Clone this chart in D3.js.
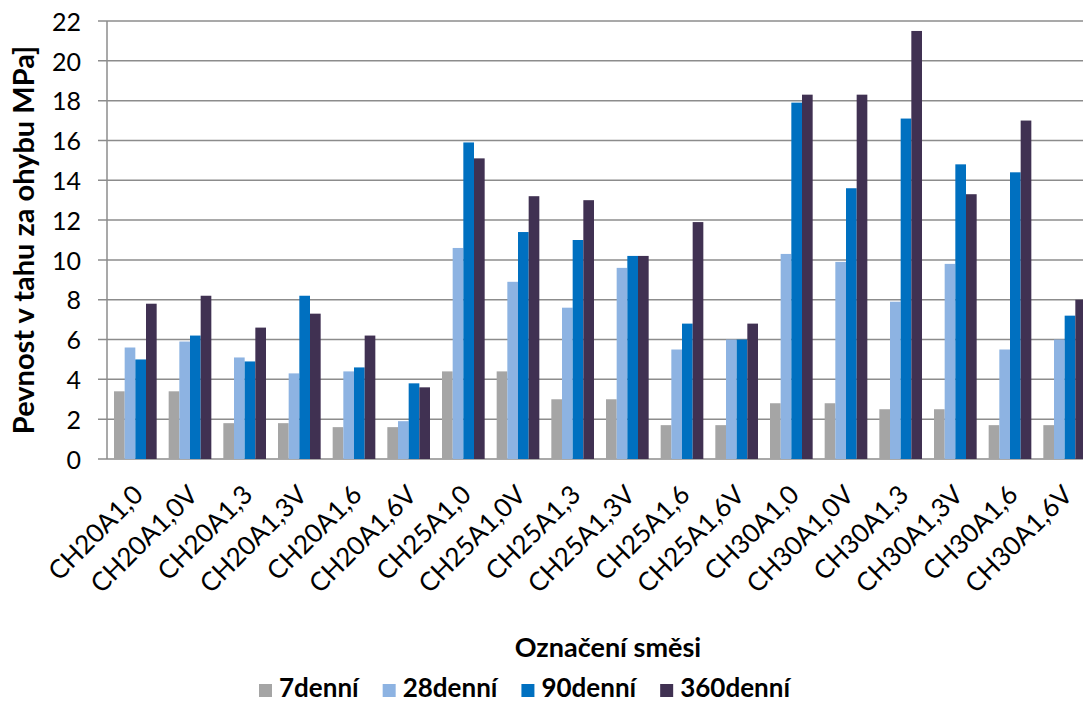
<!DOCTYPE html>
<html>
<head>
<meta charset="utf-8">
<script src="https://cdn.jsdelivr.net/npm/d3@7"></script>
<style>
  body { margin: 0; background: #fff; }
  svg { display: block; font-family: Lato, "Open Sans", sans-serif; }
</style>
</head>
<body>
<div id="chart"></div>
<script>
// categories (mixtures) and series (curing age)
const categories = ["CH20A1,0", "CH20A1,0V", "CH20A1,3", "CH20A1,3V", "CH20A1,6", "CH20A1,6V",
                    "CH25A1,0", "CH25A1,0V", "CH25A1,3", "CH25A1,3V", "CH25A1,6", "CH25A1,6V",
                    "CH30A1,0", "CH30A1,0V", "CH30A1,3", "CH30A1,3V", "CH30A1,6", "CH30A1,6V"];
const seriesNames = ["7denní", "28denní", "90denní", "360denní"];
const days7   = [3.4, 3.4, 1.8, 1.8, 1.6, 1.6, 4.4, 4.4, 3.0, 3.0, 1.7, 1.7, 2.8, 2.8, 2.5, 2.5, 1.7, 1.7];
const days28  = [5.6, 5.9, 5.1, 4.3, 4.4, 1.9, 10.6, 8.9, 7.6, 9.6, 5.5, 6.0, 10.3, 9.9, 7.9, 9.8, 5.5, 6.0];
const days90  = [5.0, 6.2, 4.9, 8.2, 4.6, 3.8, 15.9, 11.4, 11.0, 10.2, 6.8, 6.0, 17.9, 13.6, 17.1, 14.8, 14.4, 7.2];
const days360 = [7.8, 8.2, 6.6, 7.3, 6.2, 3.6, 15.1, 13.2, 13.0, 10.2, 11.9, 6.8, 18.3, 18.3, 21.5, 13.3, 17.0, 8.0];
const yTicks = [0, 2, 4, 6, 8, 10, 12, 14, 16, 18, 20, 22];
const colors = ["#A5A5A5", "#8DB3E2", "#0070C0", "#403152"];

const allSeries = [days7, days28, days90, days360];

const W = 1083, H = 713;
const plot = { left: 107, right: 1092, top: 21, bottom: 459 };

const svg = d3.select("#chart").append("svg")
    .attr("width", W)
    .attr("height", H);

const x = d3.scaleBand()
    .domain(categories)
    .range([plot.left + 1, plot.right])
    .padding(0);

// bars sit inside each band with a gap on both sides
const xs = d3.scaleBand()
    .domain(d3.range(seriesNames.length))
    .range([6, x.bandwidth() - 6])
    .padding(0);

const y = d3.scaleLinear()
    .domain([0, 22])
    .range([plot.bottom, plot.top]);

// gridlines
svg.append("g")
    .selectAll("line")
    .data(yTicks)
    .enter()
    .append("line")
    .attr("x1", plot.left - 9)
    .attr("x2", W)
    .attr("y1", d => y(d))
    .attr("y2", d => y(d))
    .style("stroke", "#8C8C8C")
    .style("stroke-width", 1.5);

// bars
const groups = svg.append("g")
    .selectAll("g")
    .data(categories)
    .enter()
    .append("g")
    .attr("transform", d => "translate(" + x(d) + ",0)");

groups.selectAll("rect")
    .data((d, i) => allSeries.map((s, k) => ({ k: k, v: s[i] })))
    .enter()
    .append("rect")
    .attr("x", d => xs(d.k))
    .attr("width", xs.bandwidth())
    .attr("y", d => y(d.v))
    .attr("height", d => y(0) - y(d.v))
    .style("fill", d => colors[d.k]);

// y axis line
svg.append("line")
    .attr("x1", plot.left).attr("x2", plot.left)
    .attr("y1", plot.top).attr("y2", plot.bottom)
    .style("stroke", "#8C8C8C")
    .style("stroke-width", 1.5);

// y tick labels
svg.append("g")
    .selectAll("text")
    .data(yTicks)
    .enter()
    .append("text")
    .attr("x", 81)
    .attr("y", d => y(d) + 1)
    .attr("dy", "0.35em")
    .attr("text-anchor", "end")
    .style("font-size", "25px")
    .style("fill", "#000")
    .text(d => d);

// x tick labels, rotated
svg.append("g")
    .selectAll("text")
    .data(categories)
    .enter()
    .append("text")
    .attr("transform", d => "translate(" + (x(d) + x.bandwidth() / 2 + 3) + "," + 490 + ") rotate(-45)")
    .attr("text-anchor", "end")
    .attr("dy", "0.35em")
    .style("font-size", "26px")
    .style("fill", "#000")
    .text(d => d);

// axis titles
svg.append("text")
    .attr("transform", "translate(34," + 240 + ") rotate(-90)")
    .attr("text-anchor", "middle")
    .style("font-size", "29px")
    .style("font-weight", "bold")
    .text("Pevnost v tahu za ohybu MPa]");

svg.append("text")
    .attr("x", 608)
    .attr("y", 657)
    .attr("text-anchor", "middle")
    .style("font-size", "27px")
    .style("font-weight", "bold")
    .text("Označení směsi");

// legend, laid out one item after another
const legend = svg.append("g").attr("transform", "translate(259,684)");
let lx = 0;
seriesNames.forEach((name, i) => {
    const item = legend.append("g").attr("transform", "translate(" + lx + ",0)");
    item.append("rect")
        .attr("width", 13)
        .attr("height", 13)
        .style("fill", colors[i]);
    const t = item.append("text")
        .attr("x", 20)
        .attr("y", 13)
        .style("font-size", "26px")
        .style("font-weight", "bold")
        .text(name);
    lx += 20 + t.node().getComputedTextLength() + 24;
});
</script>
</body>
</html>
